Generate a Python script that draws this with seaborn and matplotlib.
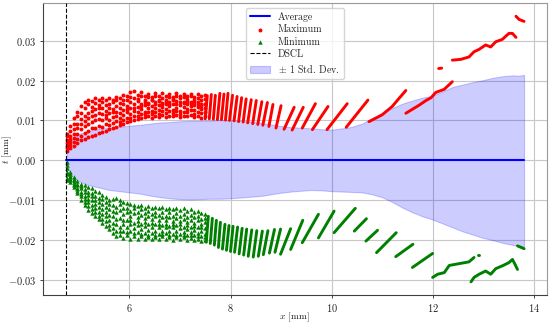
import numpy as np
import matplotlib
matplotlib.use("Agg")
import matplotlib.pyplot as plt
import seaborn as sns
from matplotlib.ticker import MultipleLocator

# ── 1. DATA ──────────────────────────────────────────────────────────────────
# x in mm; thickness values t are given in units of 1e-4 mm
SCALE = 1e-4
DSCL_X = 4.74

avg_x = [4.74, 13.81]
avg_y = [0, 0]

band_x = [4.74, 4.78, 4.82, 4.86, 4.92, 5.00, 5.10, 5.25, 5.40, 5.60, 5.80, 6.00, 6.20,
          6.40, 6.60, 6.80, 7.00, 7.20, 7.40, 7.60, 7.80, 8.00, 8.20, 8.40, 8.60, 8.80,
          9.00, 9.20, 9.40, 9.60, 9.80, 10.00, 10.20, 10.40, 10.60, 10.80, 11.00, 11.20,
          11.40, 11.60, 11.80, 12.00, 12.20, 12.40, 12.60, 12.80, 13.00, 13.20, 13.40,
          13.60, 13.70, 13.81]
band_hi = [0, 28, 42, 52, 60, 66, 71, 75, 79, 82, 84, 87, 89, 92, 95, 96, 98, 99, 99, 100,
           101, 101, 99, 97, 94, 90, 86, 83, 82, 80, 78, 77, 80, 84, 92, 105, 119, 131, 142,
           150, 157, 162, 173, 184, 190, 196, 201, 207, 211, 213, 212, 214]
band_lo = [0, -22, -32, -40, -46, -52, -58, -64, -68, -74, -77, -80, -83, -88, -92, -95,
           -97, -98, -97, -96, -96, -95, -93, -91, -89, -85, -81, -78, -76, -74, -75, -77,
           -78, -79, -80, -85, -92, -104, -118, -130, -140, -148, -158, -168, -178, -186,
           -194, -200, -207, -212, -214, -216]

# dense part near the DSCL: zig-zag strands per series
cloud_x = [4.76, 4.83, 4.90, 4.97, 5.04, 5.11, 5.18, 5.25, 5.32, 5.39, 5.46, 5.53, 5.60,
           5.67, 5.74, 5.81, 5.88, 5.95, 6.02, 6.09, 6.16, 6.23, 6.30, 6.37, 6.44, 6.51,
           6.58, 6.65, 6.72, 6.79, 6.86, 6.93, 7.00, 7.07, 7.14, 7.21, 7.28, 7.35, 7.42, 7.49]
max_cloud = [
    [66, 85, 105, 120, 135, 145, 152, 148, 156, 150, 156, 150, 155, 152, 158, 156, 164, 162,
     170, 174, 164, 170, 160, 166, 158, 168, 160, 168, 162, 166, 158, 168, 162, 166, 160,
     167, 158, 165, 160, 164],
    [60, 74, 92, 110, 118, 132, 140, 134, 144, 138, 146, 138, 142, 146, 150, 144, 150, 152,
     158, 156, 154, 160, 146, 158, 150, 160, 148, 156, 146, 158, 150, 160, 146, 158, 148,
     160, 146, 156, 142, 154],
    [52, 62, 78, 92, 104, 112, 118, 124, 128, 132, 130, 124, 132, 128, 136, 130, 140, 136,
     145, 140, 148, 142, 150, 144, 152, 146, 150, 142, 152, 146, 154, 148, 156, 146, 154,
     144, 152, 146, 150, 142],
    [44, 54, 66, 80, 90, 98, 106, 110, 114, 118, 116, 114, 118, 120, 122, 118, 126, 128,
     130, 132, 134, 136, 138, 140, 136, 142, 138, 144, 140, 142, 140, 142, 138, 144, 140,
     146, 138, 142, 136, 140],
    [36, 45, 55, 66, 78, 86, 92, 96, 100, 104, 100, 106, 100, 108, 112, 106, 114, 120, 116,
     124, 120, 128, 122, 130, 124, 132, 126, 134, 128, 136, 126, 132, 124, 134, 128, 136,
     126, 134, 128, 132],
    [30, 38, 46, 54, 62, 68, 74, 80, 80, 86, 84, 90, 88, 94, 98, 96, 102, 106, 106, 112,
     112, 116, 116, 120, 116, 122, 116, 124, 118, 124, 118, 124, 116, 122, 120, 126, 116,
     122, 118, 120],
    [24, 30, 36, 44, 50, 54, 58, 62, 64, 68, 70, 74, 78, 80, 84, 88, 90, 95, 98, 100, 104,
     106, 108, 110, 106, 112, 108, 114, 108, 112, 110, 114, 108, 112, 110, 114, 108, 112,
     106, 110],
]
min_cloud = [
    [-3, -28, -42, -52, -58, -62, -66, -70, -76, -80, -86, -92, -98, -96, -94, -100, -104,
     -106, -110, -112, -115, -112, -118, -114, -120, -116, -120, -116, -122, -118, -122,
     -118, -124, -120, -126, -122, -128, -126, -132, -134],
    [-12, -34, -46, -58, -64, -72, -78, -82, -88, -94, -96, -104, -108, -112, -116, -110,
     -120, -118, -126, -120, -130, -122, -132, -126, -134, -128, -136, -128, -138, -130,
     -140, -132, -138, -134, -142, -136, -142, -138, -146, -144],
    [-20, -38, -50, -62, -70, -78, -86, -90, -98, -104, -108, -116, -122, -126, -130, -124,
     -134, -128, -138, -132, -142, -136, -144, -138, -146, -140, -148, -142, -150, -142,
     -152, -144, -152, -146, -154, -148, -156, -150, -158, -154],
    [-28, -42, -54, -68, -78, -88, -96, -100, -108, -116, -122, -128, -136, -140, -146,
     -144, -148, -150, -150, -156, -152, -158, -154, -160, -156, -160, -158, -162, -158,
     -164, -160, -162, -160, -166, -162, -166, -164, -168, -166, -170],
    [-35, -46, -58, -72, -84, -96, -104, -112, -118, -128, -134, -140, -150, -156, -160,
     -166, -158, -168, -160, -170, -162, -172, -164, -174, -166, -176, -168, -176, -166,
     -178, -168, -178, -170, -180, -172, -180, -174, -182, -176, -184],
    [-44, -50, -62, -76, -90, -104, -114, -122, -128, -138, -146, -152, -162, -170, -176,
     -178, -176, -180, -178, -182, -180, -184, -182, -186, -182, -186, -184, -184, -182,
     -186, -184, -186, -184, -188, -186, -188, -188, -190, -190, -192],
    [-50, -54, -66, -82, -98, -112, -124, -132, -138, -146, -156, -165, -172, -182, -190,
     -186, -194, -188, -196, -190, -196, -190, -198, -192, -198, -192, -198, -190, -198,
     -192, -200, -192, -198, -192, -200, -194, -200, -196, -202, -200],
]

# further downstream the extremes form short slanted streaks
max_streak_x = [
    [7.50, 7.54], [7.58, 7.62], [7.66, 7.70], [7.74, 7.79], [7.82, 7.87], [7.90, 7.95],
    [7.98, 8.04], [8.07, 8.13], [8.16, 8.22], [8.25, 8.31], [8.34, 8.41], [8.44, 8.51],
    [8.54, 8.62], [8.64, 8.73], [8.76, 8.84], [8.90, 9.00], [9.06, 9.26], [9.22, 9.44],
    [9.42, 9.68], [9.62, 9.93], [9.91, 10.31], [10.29, 10.72],
    [10.74, 11.00, 11.20, 11.34, 11.47],
    [11.47, 11.60, 11.73, 11.87, 11.97, 12.06, 12.23, 12.39],
    [12.12, 12.18],
    [12.39, 12.56, 12.72, 12.82, 12.92, 13.05, 13.15, 13.25, 13.38, 13.51, 13.58, 13.65],
    [13.65, 13.71, 13.81],
]
max_streak_y = [
    [104, 162], [104, 165], [103, 163], [102, 168], [102, 166], [101, 168],
    [100, 163], [99, 160], [97, 157], [96, 154], [94, 152], [92, 150],
    [90, 147], [88, 145], [85, 140], [81, 137], [78, 133], [76, 133],
    [81, 142], [77, 135], [77, 142], [83, 151],
    [97, 114, 135, 156, 175],
    [118, 128, 138, 150, 157, 170, 178, 197],
    [230, 231],
    [251, 253, 259, 272, 278, 289, 284, 297, 303, 318, 318, 308],
    [361, 353, 348],
]
min_streak_x = [
    [7.52, 7.56], [7.60, 7.64], [7.68, 7.72], [7.76, 7.80], [7.84, 7.89], [7.92, 7.97],
    [8.00, 8.05], [8.08, 8.14], [8.17, 8.23], [8.26, 8.32], [8.35, 8.42], [8.45, 8.52],
    [8.55, 8.63], [8.65, 8.74], [8.77, 8.87], [8.88, 8.99], [8.99, 9.19], [9.19, 9.43],
    [9.42, 9.74], [9.74, 10.05], [10.05, 10.47], [10.45, 10.69], [10.68, 10.91],
    [10.89, 11.28], [11.27, 11.61], [11.60, 12.00],
    [12.00, 12.10, 12.23, 12.33, 12.46, 12.72, 12.82],
    [12.90, 12.92],
    [12.76, 12.82, 12.92, 13.05, 13.15, 13.25, 13.38, 13.51, 13.58, 13.63, 13.68],
    [13.68, 13.81],
]
min_streak_y = [
    [-205, -140], [-208, -145], [-212, -150], [-218, -155], [-222, -160], [-225, -163],
    [-228, -165], [-230, -167], [-234, -170], [-237, -172], [-240, -174], [-242, -176],
    [-240, -177], [-236, -176], [-232, -173], [-230, -172], [-235, -171], [-223, -150],
    [-206, -135], [-194, -127], [-181, -120], [-177, -146], [-202, -175],
    [-231, -181], [-241, -210], [-268, -233],
    [-293, -285, -281, -263, -260, -254, -243],
    [-238, -238],
    [-304, -293, -285, -277, -285, -271, -264, -256, -248, -260, -273],
    [-214, -221],
]

# ── 2. STYLE ─────────────────────────────────────────────────────────────────
sns.set_theme(style="whitegrid")
plt.rcParams["font.family"] = ["cmr10"]
plt.rcParams["mathtext.fontset"] = "cm"
plt.rcParams["axes.formatter.use_mathtext"] = True

fig = plt.figure(figsize=(5.5, 3.25), dpi=100)
ax = fig.add_axes([0.078, 0.092, 0.9165, 0.899])

# ── 3. PLOT ──────────────────────────────────────────────────────────────────
ax.fill_between(band_x, np.array(band_lo) * SCALE, np.array(band_hi) * SCALE,
                color="blue", alpha=0.2, lw=0.8, zorder=1, label=r"$\pm$ 1 Std. Dev.")

for xs, ys in zip(max_streak_x, max_streak_y):
    ax.plot(xs, np.array(ys) * SCALE, color="red", lw=2.1,
            solid_capstyle="round", zorder=3)
for xs, ys in zip(min_streak_x, min_streak_y):
    ax.plot(xs, np.array(ys) * SCALE, color="green", lw=2.1,
            solid_capstyle="round", zorder=3)

n_max = len(max_cloud)
n_min = len(min_cloud)
sns.scatterplot(x=np.tile(cloud_x, n_max), y=np.concatenate(max_cloud) * SCALE, ax=ax,
                color="red", marker="o", s=8, linewidth=0, zorder=3, label="Maximum")
sns.scatterplot(x=np.tile(cloud_x, n_min), y=np.concatenate(min_cloud) * SCALE, ax=ax,
                color="green", marker="^", s=10, linewidth=0, zorder=3, label="Minimum")

sns.lineplot(x=avg_x, y=avg_y, ax=ax, color="blue", lw=1.5, zorder=4, label="Average")
ax.axvline(DSCL_X, color="black", ls="--", lw=0.8, zorder=5, label="DSCL")

# ── 4. AXES / LEGEND ─────────────────────────────────────────────────────────
ax.xaxis.set_major_locator(MultipleLocator(2))
ax.yaxis.set_major_locator(MultipleLocator(0.01))
ax.set_xlabel(r"$x$ [mm]", fontsize=7, va="top")
ax.set_ylabel(r"$t$ [mm]", fontsize=7, va="center")
ax.xaxis.set_label_coords(0.5, -0.052)
ax.yaxis.set_label_coords(-0.07, 0.5)
ax.tick_params(direction="out", length=2.5, width=0.6, pad=2.5, labelsize=7.5,
               colors="0.15", left=True, bottom=True)
ax.grid(color="0.78", lw=0.8)
for side in ["left", "bottom"]:
    ax.spines[side].set_color("0.25")
    ax.spines[side].set_linewidth(0.8)
for side in ["top", "right"]:
    ax.spines[side].set_color("0.6")
    ax.spines[side].set_linewidth(0.8)

handles, labels = ax.get_legend_handles_labels()
order = ["Average", "Maximum", "Minimum", "DSCL", r"$\pm$ 1 Std. Dev."]
lookup = dict(zip(labels, handles))
ax.legend([lookup[k] for k in order], order, loc="upper center", fontsize=7.2,
          labelspacing=0.28, frameon=True, fancybox=True, edgecolor="0.8",
          framealpha=0.8, borderpad=0.4)

fig.savefig("out.png", dpi=100)
